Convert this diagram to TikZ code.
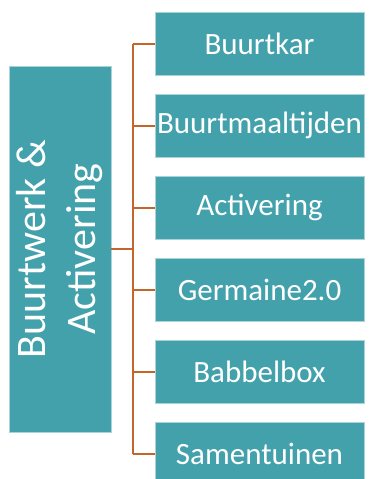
\documentclass[tikz,border=0pt]{standalone}
\usepackage{fontspec}
\setmainfont{Carlito}
\definecolor{tealbox}{HTML}{43A1AC}
\definecolor{tealedge}{HTML}{A9D3D8}
\definecolor{conn}{HTML}{C2662C}
\begin{document}
\begin{tikzpicture}[x=1pt,y=-1pt,
  child/.style={rectangle,fill=tealbox,draw=tealedge,line width=0.6pt,inner sep=0pt,
    minimum width=209pt,minimum height=63pt,text=white,font=\fontsize{31}{36}\selectfont},
  mainbox/.style={rectangle,fill=tealbox,draw=tealedge,line width=0.6pt,inner sep=0pt,
    minimum width=102pt,minimum height=366pt},
  link/.style={draw=conn,line width=2pt}]
\useasboundingbox (0,0) rectangle (368,479);
\clip (0,0) rectangle (368,479);
\node[mainbox] (main) at (60,249) {};
\node[rotate=90,text=white,align=center,font=\fontsize{42}{50}\selectfont] (maintext) at (main.center) {Buurtwerk \&\\Activering};
\node[child] (c1) at (259.5,43.5) {Buurtkar};
\node[child] (c2) at (259.5,125.5) {Buurtmaaltijden};
\node[child] (c3) at (259.5,207.5) {Activering};
\node[child] (c4) at (259.5,289.5) {Germaine2.0};
\node[child] (c5) at (259.5,371.5) {Babbelbox};
\node[child] (c6) at (259.5,453.5) {Samentuinen};
\coordinate (hub) at (133,249);
\foreach \i in {1,...,6} {\coordinate (t\i) at (hub |- c\i.west);}
\draw[link] (t1) -- (t6);
\draw[link] (main.east) -- (hub);
\foreach \i in {1,...,6} {\draw[link] (t\i) -- (c\i.west);}
\end{tikzpicture}
\end{document}
